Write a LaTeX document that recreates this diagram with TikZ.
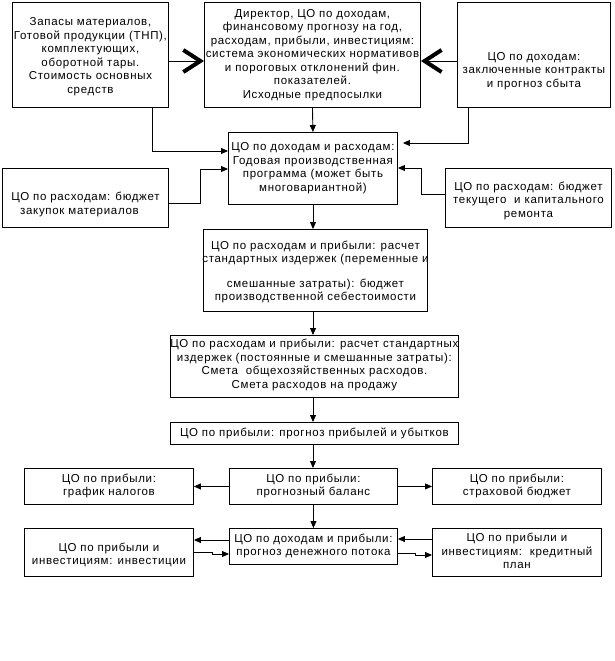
\documentclass[tikz,border=0pt]{standalone}
\usepackage{fontspec}
\setmainfont{Liberation Sans}[LetterSpace=6]
\usetikzlibrary{arrows.meta}
\newcommand\bt[2][0]{\makebox[0pt]{\raisebox{\dimexpr -#1pt -2.9pt\relax}[0pt][0pt]{\begin{tabular}{@{}c@{}}#2\end{tabular}}}}
\begin{document}
\begin{tikzpicture}[x=1pt,y=-1pt,
  box/.style={draw, line width=0.9pt, inner sep=0pt, anchor=north west, font=\fontsize{11.5}{13.5}\selectfont},
  arr/.style={-{Triangle[length=7pt,width=6pt]}, line width=0.9pt},
  chev/.style={-{Straight Barb[length=17pt,width=22pt,line width=4pt]}, line width=0.9pt}]
\useasboundingbox (0,0) rectangle (614,661);
\node[box, minimum width=156pt, minimum height=105pt] (A) at (12,2) {\bt[2]{Запасы материалов,\\Готовой продукции (ТНП),\\комплектующих,\\оборотной тары.\\Стоимость основных\\средств}};
\node[box, minimum width=216pt, minimum height=105pt] (B) at (204,2) {\bt{Директор, ЦО по доходам,\\финансовому прогнозу на год,\\расходам, прибыли,\ инвестициям:\\система экономических нормативов\\и пороговых отклонений фин.\\показателей.\\Исходные предпосылки}};
\node[box, minimum width=153pt, minimum height=105pt] (C) at (457,2) {\bt[16]{ЦО по доходам:\\заключенные контракты\\и прогноз сбыта}};
\node[box, minimum width=169pt, minimum height=72pt] (D) at (228,132) {\bt{ЦО по доходам и расходам:\\Годовая производственная\\программа (может быть\\многовариантной)}};
\node[box, minimum width=166pt, minimum height=59pt] (N) at (2,168) {\bt[7]{ЦО по расходам: бюджет\\закупок материалов\hspace*{12pt}}};
\node[box, minimum width=166pt, minimum height=59pt] (O) at (445,168) {\bt[3]{ЦО по расходам: бюджет\\текущего\ \ и капитального\\ремонта}};
\node[box, minimum width=224pt, minimum height=82pt] (E) at (203,229) {\bt[2]{ЦО по расходам и прибыли: расчет\\стандартных издержек (переменные и\\[11pt]смешанные затраты): бюджет\\производственной себестоимости}};
\node[box, minimum width=288pt, minimum height=62pt] (F) at (170,335) {\bt[-1]{ЦО по расходам и прибыли: расчет стандартных\\издержек (постоянные и смешанные затраты):\\Смета\ \ общехозяйственных расходов.\\Смета расходов на продажу}};
\node[box, minimum width=288pt, minimum height=22pt] (G) at (170,422) {\bt{ЦО по прибыли: прогноз прибылей и убытков}};
\node[box, minimum width=168pt, minimum height=36pt] (H) at (229,468) {\bt{ЦО по прибыли:\\прогнозный баланс}};
\node[box, minimum width=169pt, minimum height=36pt] (I) at (24,468) {\bt{ЦО по прибыли:\\график налогов}};
\node[box, minimum width=169pt, minimum height=36pt] (J) at (432,468) {\bt{ЦО по прибыли:\\страховой бюджет}};
\node[box, minimum width=168pt, minimum height=36pt] (K) at (229,528) {\bt{ЦО по доходам и прибыли:\\прогноз денежного потока}};
\node[box, minimum width=169pt, minimum height=48pt] (L) at (24,528) {\bt[3]{ЦО по прибыли и\\инвестициям: инвестиции}};
\node[box, minimum width=169pt, minimum height=48pt] (M) at (432,528) {\bt{ЦО по прибыли и\\инвестициям:\ \ кредитный\\план}};
\draw[chev] (A.east |- 0,61) -- (B.west |- 0,61);
\draw[chev] (C.west |- 0,61) -- (B.east |- 0,61);
\draw[arr] (B.south) -- (D.north);
\draw[arr] (A.south -| 152,0) |- (D.west |- 0,151);
\draw[arr] (N.east |- 0,203) -| (200,169) -- (D.west |- 0,169);
\draw[arr, shorten >=5pt] (C.south -| 468,0) |- (D.east |- 0,143);
\draw[arr] (O.west |- 0,194) -| (421,168) -- (D.east |- 0,168);
\draw[arr] (D.south -| 313,0) -- (E.north -| 313,0);
\draw[arr] (E.south -| 313,0) -- (F.north -| 313,0);
\draw[arr] (F.south -| 313,0) -- (G.north -| 313,0);
\draw[arr] (G.south -| 313,0) -- (H.north -| 313,0);
\draw[arr] (H.west) -- (I.east);
\draw[arr] (H.east) -- (J.west);
\draw[arr] (H.south) -- (K.north);
\draw[arr] (K.west |- 0,540) -- (L.east |- 0,540);
\draw[arr] (L.east |- 0,552) -- (212,552) -- (212,554) -- (K.west |- 0,554);
\draw[arr] (M.west |- 0,539) -- (K.east |- 0,539);
\draw[arr] (K.east |- 0,553) -- (415,553) -- (415,555) -- (M.west |- 0,555);
\end{tikzpicture}
\end{document}
